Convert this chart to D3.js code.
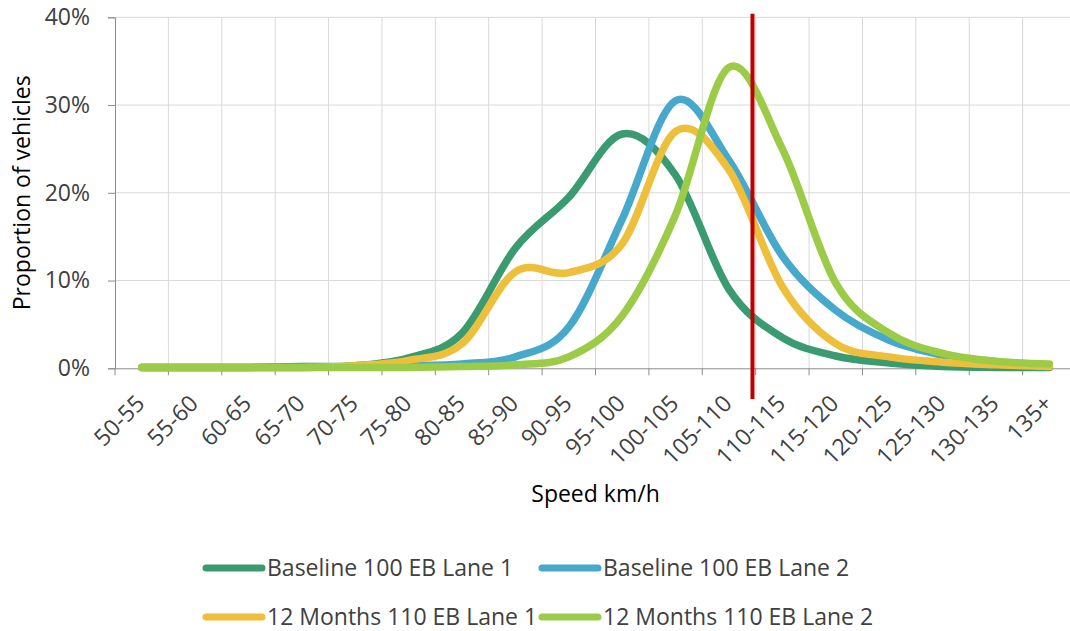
<!DOCTYPE html>
<html>
<head>
<meta charset="utf-8">
<script src="https://cdn.jsdelivr.net/npm/d3@7"></script>
<style>
  html, body { margin: 0; padding: 0; background: #fff; }
  svg { display: block; font-family: "Open Sans", "Noto Sans", sans-serif; }
</style>
</head>
<body>
<svg id="chart" width="1070" height="631"></svg>
<script>
// Speed bins (km/h)
const categories = ["50-55", "55-60", "60-65", "65-70", "70-75", "75-80", "80-85", "85-90", "90-95",
  "95-100", "100-105", "105-110", "110-115", "115-120", "120-125", "125-130", "130-135", "135+"];

// Share of vehicles in each bin (%)
const baselineLane1 = [0.1, 0.1, 0.1, 0.2, 0.3, 1.2, 4.0, 13.7, 19.5, 26.7, 22.0, 9.0, 3.5, 1.4, 0.6, 0.2, 0.1, 0.1];
const baselineLane2 = [0.1, 0.1, 0.1, 0.1, 0.2, 0.3, 0.5, 1.3, 4.7, 17.0, 30.5, 23.7, 12.8, 6.6, 3.2, 1.5, 0.6, 0.3];
const monthsLane1   = [0.1, 0.1, 0.1, 0.1, 0.3, 0.9, 2.8, 11.0, 10.9, 14.2, 27.0, 22.6, 9.3, 2.8, 1.3, 0.7, 0.4, 0.2];
const monthsLane2   = [0.1, 0.1, 0.1, 0.1, 0.1, 0.1, 0.2, 0.4, 1.3, 6.0, 17.5, 34.3, 25.0, 9.7, 4.0, 1.7, 0.8, 0.5];

const seriesNames  = ["Baseline 100 EB Lane 1", "Baseline 100 EB Lane 2", "12 Months 110 EB Lane 1", "12 Months 110 EB Lane 2"];
const seriesColors = ["#3a9a70", "#46a8cb", "#eebf3b", "#9ccb47"];
const seriesValues = [baselineLane1, baselineLane2, monthsLane1, monthsLane2];

const yTicks = [0, 10, 20, 30, 40];

// Speed-limit marker (km/h) and its vertical extent (%)
const limitMarkerSpeed = 109.7;
const limitMarkerRange = [-3.5, 40.4];

const svg = d3.select("#chart");
const fontSize = 23;
const plot = { left: 115, top: 17.3, bottom: 368.3, band: 53.39 };
plot.right = plot.left + plot.band * categories.length;

const x = d3.scaleBand().domain(categories).range([plot.left, plot.right]).paddingInner(0).paddingOuter(0);
const speedX = d3.scaleLinear().domain([50, 50 + 5 * categories.length]).range([plot.left, plot.right]);
const y = d3.scaleLinear().domain([0, 40]).range([plot.bottom, plot.top]);

// Horizontal gridlines
svg.append("g").selectAll("line").data(yTicks.filter(d => d > 0)).join("line")
  .attr("x1", plot.left).attr("x2", plot.right)
  .attr("y1", d => y(d)).attr("y2", d => y(d))
  .attr("stroke", "#d9d9d9").attr("stroke-width", 1);

// Vertical gridlines at bin boundaries
svg.append("g").selectAll("line").data(categories.slice(1)).join("line")
  .attr("x1", d => x(d)).attr("x2", d => x(d))
  .attr("y1", plot.top).attr("y2", plot.bottom)
  .attr("stroke", "#d9d9d9").attr("stroke-width", 1);

// Y axis
const yAxis = svg.append("g").attr("transform", `translate(${plot.left},0)`)
  .call(d3.axisLeft(y).tickValues(yTicks).tickFormat(d => d + "%").tickSize(7).tickPadding(18));
yAxis.select(".domain").attr("stroke", "#8c8c8c");
yAxis.selectAll(".tick line").attr("stroke", "#8c8c8c");
yAxis.selectAll(".tick text").attr("font-size", fontSize).attr("fill", "#404040")
  .attr("font-family", "'Open Sans', sans-serif");

// X axis
const xAxis = svg.append("g").attr("transform", `translate(0,${plot.bottom})`)
  .call(d3.axisBottom(x).tickSize(0).tickFormat(""));
xAxis.select(".domain").attr("stroke", "#8c8c8c");
svg.append("g").selectAll("line").data(d3.range(categories.length + 1)).join("line")
  .attr("x1", i => plot.left + i * x.bandwidth()).attr("x2", i => plot.left + i * x.bandwidth())
  .attr("y1", plot.bottom).attr("y2", plot.bottom + 7)
  .attr("stroke", "#8c8c8c");

// Rotated bin labels
svg.append("g").selectAll("text").data(categories).join("text")
  .attr("transform", d => `translate(${x(d) + x.bandwidth() / 2 - 1.3},${plot.bottom + 31}) rotate(-45)`)
  .attr("text-anchor", "end").attr("dy", "0.35em")
  .attr("font-size", fontSize).attr("fill", "#404040")
  .text(d => d);

// Axis titles
svg.append("text")
  .attr("transform", `translate(22,${(plot.top + plot.bottom) / 2}) rotate(-90)`)
  .attr("text-anchor", "middle").attr("dy", "0.35em")
  .attr("font-size", fontSize).attr("fill", "#000")
  .text("Proportion of vehicles");

svg.append("text")
  .attr("x", (plot.left + plot.right) / 2).attr("y", 494)
  .attr("text-anchor", "middle").attr("dy", "0.35em")
  .attr("font-size", fontSize).attr("fill", "#000")
  .text("Speed km/h");

// Smoothed series lines
const line = d3.line()
  .x((d, i) => x(categories[i]) + x.bandwidth() / 2)
  .y(d => y(d))
  .curve(d3.curveCardinal.tension(0));

svg.append("g").selectAll("path").data(seriesValues).join("path")
  .attr("d", d => line(d))
  .attr("fill", "none")
  .attr("stroke", (d, i) => seriesColors[i])
  .attr("stroke-width", 7.5)
  .attr("stroke-linecap", "round")
  .attr("stroke-linejoin", "round");

// Speed-limit marker
svg.append("line")
  .attr("x1", speedX(limitMarkerSpeed)).attr("x2", speedX(limitMarkerSpeed))
  .attr("y1", y(limitMarkerRange[1])).attr("y2", y(limitMarkerRange[0]))
  .attr("stroke", "#c00000").attr("stroke-width", 4);

// Legend
const legendCols = [206, 542];
const legendRows = [568, 617];
const legend = svg.append("g").selectAll("g").data(seriesNames).join("g")
  .attr("transform", (d, i) => `translate(${legendCols[i % 2]},${legendRows[Math.floor(i / 2)]})`);
legend.append("line")
  .attr("x1", 0).attr("x2", 56).attr("y1", 0).attr("y2", 0)
  .attr("stroke", (d, i) => seriesColors[i]).attr("stroke-width", 7).attr("stroke-linecap", "round");
legend.append("text")
  .attr("x", 61).attr("dy", "0.35em")
  .attr("font-size", fontSize).attr("fill", "#404040")
  .text(d => d);
</script>
</body>
</html>
